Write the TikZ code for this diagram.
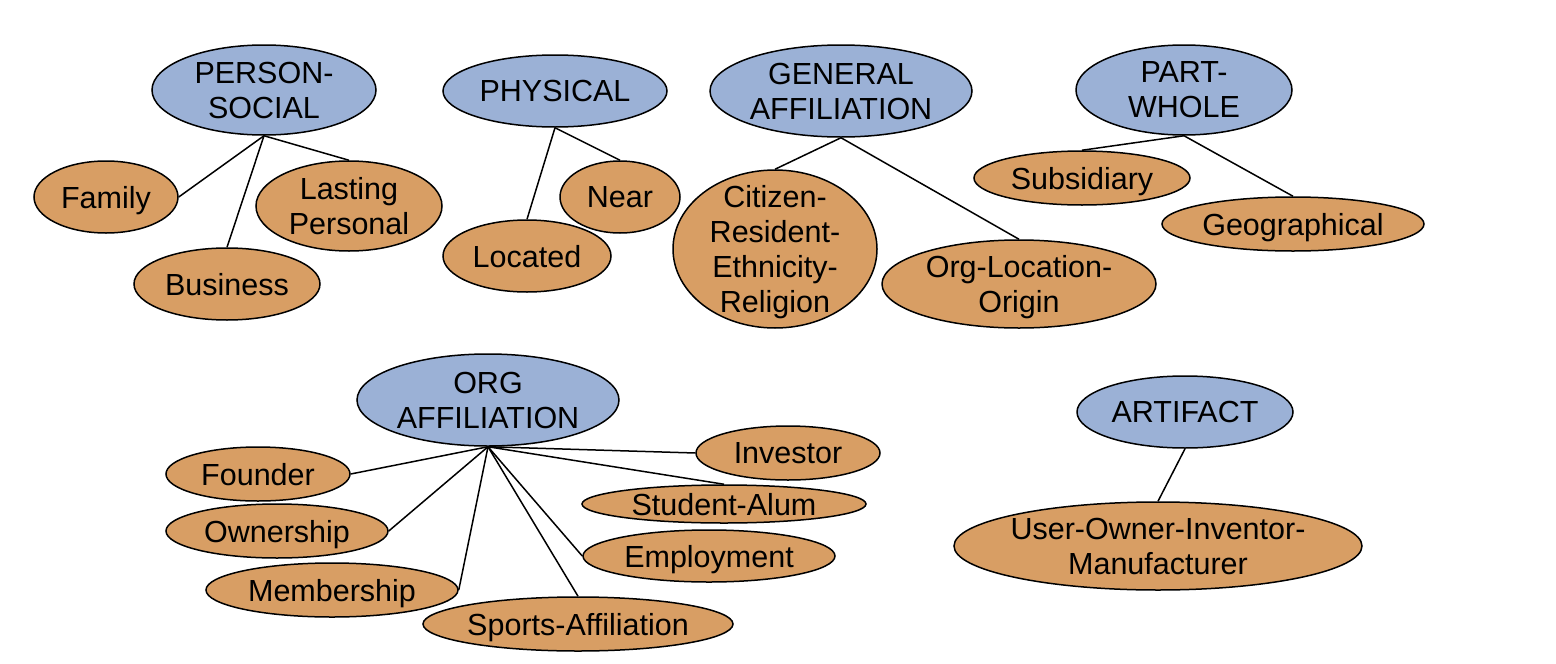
\documentclass[tikz,border=0pt]{standalone}
\usepackage{fontspec}
\setmainfont{Liberation Sans}
\usetikzlibrary{shapes.geometric}
\definecolor{catblue}{RGB}{155,177,214}
\definecolor{suborange}{RGB}{216,158,100}
\tikzset{
  ell/.style={ellipse, draw=black, line width=1.5pt, inner xsep=-80pt, inner ysep=-80pt,
    align=center, text depth=0pt, font=\fontsize{30.5}{35}\selectfont, text=black},
  cat/.style={ell, fill=catblue},
  sub/.style={ell, fill=suborange},
  link/.style={draw=black, line width=1.5pt},
}
\begin{document}
\begin{tikzpicture}[x=1pt,y=-1pt]
\useasboundingbox (0,0) rectangle (1556,664);
% PERSON-SOCIAL
\node[cat, minimum width=224pt, minimum height=90pt] (ps) at (264,90) {PERSON-\\SOCIAL};
\node[sub, minimum width=144pt, minimum height=72pt] (fam) at (106,197) {Family};
\node[sub, minimum width=186pt, minimum height=90pt] (lp) at (349,206) {Lasting\\Personal};
\node[sub, minimum width=186pt, minimum height=72pt] (bus) at (227,284) {Business};
% PHYSICAL
\node[cat, minimum width=224pt, minimum height=72pt] (phy) at (555,91) {PHYSICAL};
\node[sub, minimum width=120pt, minimum height=72pt] (near) at (620,197) {Near};
\node[sub, minimum width=168pt, minimum height=72pt] (loc) at (527,256) {Located};
% GENERAL AFFILIATION
\node[cat, minimum width=262pt, minimum height=92pt] (ga) at (841,91) {GENERAL\\AFFILIATION};
\node[sub, minimum width=204pt, minimum height=158pt] (crer) at (775,249) {Citizen-\\Resident-\\Ethnicity-\\Religion};
\node[sub, minimum width=274pt, minimum height=88pt] (olo) at (1019,284) {Org-Location-\\Origin};
% PART-WHOLE
\node[cat, minimum width=216pt, minimum height=90pt] (pw) at (1184,90) {PART-\\WHOLE};
\node[sub, minimum width=216pt, minimum height=54pt] (subs) at (1082,178) {Subsidiary};
\node[sub, minimum width=262pt, minimum height=54pt] (geo) at (1293,224) {Geographical};
% ORG AFFILIATION
\node[cat, minimum width=262pt, minimum height=92pt] (oa) at (488,400) {ORG\\AFFILIATION};
\node[sub, minimum width=184pt, minimum height=54pt] (fou) at (258,474) {Founder};
\node[sub, minimum width=222pt, minimum height=54pt] (own) at (277,531) {Ownership};
\node[sub, minimum width=252pt, minimum height=54pt] (mem) at (332,590) {Membership};
\node[sub, minimum width=310pt, minimum height=54pt] (spo) at (578,624) {Sports-Affiliation};
\node[sub, minimum width=252pt, minimum height=52pt] (emp) at (709,556) {Employment};
\node[sub, minimum width=284pt, minimum height=38pt] (stu) at (724,504) {Student-Alum};
\node[sub, minimum width=184pt, minimum height=54pt] (inv) at (788,453) {Investor};
% ARTIFACT
\node[cat, minimum width=216pt, minimum height=72pt] (art) at (1185,412) {ARTIFACT};
\node[sub, minimum width=408pt, minimum height=88pt] (uoim) at (1158,546) {User-Owner-Inventor-\\Manufacturer};
% connectors
\draw[link] (ps.south) -- (fam.east);
\draw[link] (ps.south) -- (bus.north);
\draw[link] (ps.south) -- (lp.north);
\draw[link] (phy.south) -- (loc.north);
\draw[link] (phy.south) -- (near.north);
\draw[link] (ga.south) -- (crer.north);
\draw[link] (ga.south) -- (olo.north);
\draw[link] (pw.south) -- (subs.north);
\draw[link] (pw.south) -- (geo.north);
\draw[link] (oa.south) -- (fou.east);
\draw[link] (oa.south) -- (own.east);
\draw[link] (oa.south) -- (mem.east);
\draw[link] (oa.south) -- (spo.north);
\draw[link] (oa.south) -- (emp.west);
\draw[link] (oa.south) -- (stu.north);
\draw[link] (oa.south) -- (inv.west);
\draw[link] (art.south) -- (uoim.north);
\end{tikzpicture}
\end{document}
